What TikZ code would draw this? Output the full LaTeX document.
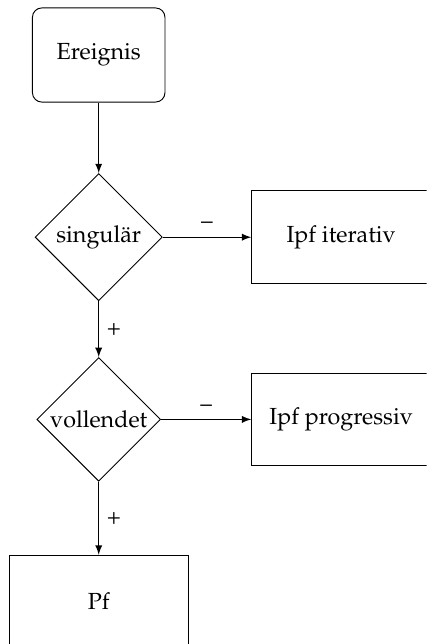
\documentclass[tikz,border=0pt]{standalone}
\usepackage[T1]{fontenc}
\usepackage{mathpazo}
\usetikzlibrary{arrows,shapes.geometric,positioning}

\begin{document}
\begin{tikzpicture}
	[
	 %Styles
	 node distance=2.75cm and 3.66cm, on grid,
	 >=latex,
	 start_node/.style={rectangle,draw,rounded corners=4pt,minimum width=2cm,minimum height=1.42cm},
	 decision_node/.style={diamond,draw,aspect=1,inner sep=1pt},
	 result_node/.style={rectangle,draw,minimum width=2.7cm,minimum height=1.4cm}
	]

	%Frame
	\clip (-1.49,0.83) rectangle (4.95,-8.89);

	%Node placement
	\node (ereignis) [start_node] {Ereignis};
	\node (singulaer) [decision_node,minimum size=1.92cm,below=of ereignis] {singulär};
	\node (iterativ) [result_node,right=of singulaer] {Ipf iterativ};
	\node (vollendet) [decision_node,below=of singulaer] {vollendet};
	\node (progressiv) [result_node,right=of vollendet] {Ipf progressiv};
	\node (pf) [result_node,below=of vollendet] {Pf};

	%Edges
	\path
		(ereignis) edge [->] (singulaer)
		(singulaer) edge [->] node [above] {--} (iterativ)
		(singulaer) edge [->] node [right] {+} (vollendet)
		(vollendet) edge [->] node [above] {--} (progressiv)
		(vollendet) edge [->] node [right] {+} (pf);
\end{tikzpicture}
\end{document}
